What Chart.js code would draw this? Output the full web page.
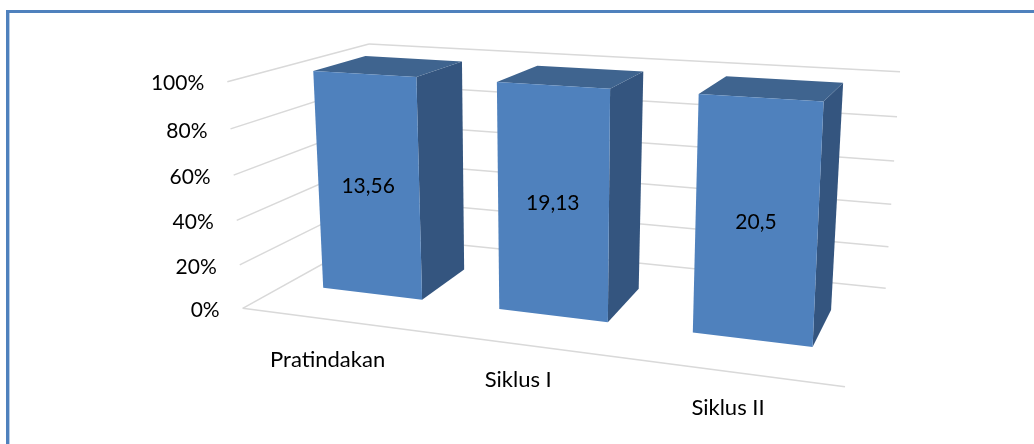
<!DOCTYPE html>
<html>
<head>
<meta charset="utf-8">
<title>Chart</title>
<script src="https://cdn.jsdelivr.net/npm/chart.js@4"></script>
<style>
  html, body { margin: 0; padding: 0; background: #fff; overflow: hidden; }
  canvas { display: block; }
</style>
</head>
<body>
<canvas id="myChart" width="1034" height="444"></canvas>
<script>
const categories = ['Pratindakan', 'Siklus I', 'Siklus II'];
const barValues = [13.56, 19.13, 20.5];
// single series on a 100% stacked axis, so every bar fills the axis
const stackedShare = [100, 100, 100];
const tickStep = 20;

// where the 3d box lands on the page: [u, v, w] = right, up, into the page
const boxCorners = {
  '000': [242.7, 308.3], '100': [845, 386.7],
  '010': [227.3, 81.7],  '110': [857.3, 121.8],
  '001': [373, 236],     '101': [885.7, 288.3],
  '011': [369, 44],      '111': [900, 71.7]
};
const widthPerspective = 0.866;
const heightPerspective = 0.95;
const barFrontDepth = 0.345;
const barBackDepth = 0.73;

const tickFont = '21px Lato';
const categoryFont = '22px Lato';
const categoryDrop = [40, 35, 36]; // excel does not hang these quite evenly
const gridColor = '#d9d9d9';
const frontColor = '#4f81bd';
const topColor = '#3f648f';
const sideColor = '#34557f';

function warp(t, k) {
  return k * t / (1 + (k - 1) * t);
}

function project(u, v, w) {
  const wu = warp(u, widthPerspective);
  const wv = warp(v, heightPerspective);
  const out = [0, 0];
  for (const key in boxCorners) {
    const a = key[0] === '1' ? wu : 1 - wu;
    const b = key[1] === '1' ? wv : 1 - wv;
    const c = key[2] === '1' ? w : 1 - w;
    out[0] += boxCorners[key][0] * a * b * c;
    out[1] += boxCorners[key][1] * a * b * c;
  }
  return out;
}

function fillFace(ctx, points, color) {
  ctx.beginPath();
  points.forEach((p, i) => i === 0 ? ctx.moveTo(p[0], p[1]) : ctx.lineTo(p[0], p[1]));
  ctx.closePath();
  ctx.fillStyle = color;
  ctx.fill();
}

function strokeLine(ctx, a, b) {
  ctx.beginPath();
  ctx.moveTo(a[0], a[1]);
  ctx.lineTo(b[0], b[1]);
  ctx.stroke();
}

const box3d = {
  id: 'box3d',
  beforeDatasetsDraw(chart) {
    const ctx = chart.ctx;
    const area = chart.chartArea;
    const yScale = chart.scales.y;
    const xScale = chart.scales.x;
    const toU = (px) => (px - area.left) / area.width;
    const toV = (py) => (area.bottom - py) / area.height;

    ctx.save();

    // frame of the picture, only top and left are there
    ctx.fillStyle = frontColor;
    ctx.fillRect(6, 10, 1028, 3);
    ctx.fillRect(6, 10, 3, 434);
    ctx.fillStyle = '#b9cde5';
    ctx.fillRect(9, 13, 1, 431);

    // walls and floor
    ctx.strokeStyle = gridColor;
    ctx.lineWidth = 1.5;
    yScale.ticks.forEach((tick) => {
      const v = toV(yScale.getPixelForValue(tick.value));
      strokeLine(ctx, project(0, v, 0), project(0, v, 1));
      strokeLine(ctx, project(0, v, 1), project(1, v, 1));
    });
    strokeLine(ctx, project(0, 0, 0), project(1, 0, 0));

    // y labels follow the front edge of the left wall
    ctx.font = tickFont;
    ctx.fillStyle = '#000';
    ctx.textAlign = 'right';
    ctx.textBaseline = 'middle';
    yScale.ticks.forEach((tick) => {
      const p = project(0, toV(yScale.getPixelForValue(tick.value)), 0);
      ctx.fillText(tick.label, p[0] - 23, p[1] + 2);
    });

    // category labels hang under the front floor edge
    ctx.font = categoryFont;
    ctx.textAlign = 'center';
    categories.forEach((name, i) => {
      const p = project(toU(xScale.getPixelForTick(i)), 0, 0);
      ctx.fillText(xScale.getLabelForValue(i), p[0] - 4, p[1] + categoryDrop[i]);
    });

    // bars
    ctx.font = tickFont;
    const meta = chart.getDatasetMeta(0);
    meta.data.forEach((bar, i) => {
      const u0 = toU(bar.x - bar.width / 2);
      const u1 = toU(bar.x + bar.width / 2);
      const v0 = toV(bar.base);
      const v1 = toV(bar.y);
      const d0 = barFrontDepth;
      const d1 = barBackDepth;

      fillFace(ctx, [project(u1, v0, d0), project(u1, v0, d1), project(u1, v1, d1), project(u1, v1, d0)], sideColor);
      fillFace(ctx, [project(u0, v1, d0), project(u1, v1, d0), project(u1, v1, d1), project(u0, v1, d1)], topColor);
      fillFace(ctx, [project(u0, v0, d0), project(u1, v0, d0), project(u1, v1, d0), project(u0, v1, d0)], frontColor);

      const mid = project((u0 + u1) / 2, (v0 + v1) / 2, d0);
      ctx.fillStyle = '#000';
      ctx.textAlign = 'center';
      ctx.fillText(String(barValues[i]).replace('.', ','), mid[0], mid[1]);
    });

    ctx.restore();
    return false; // the bars are already on the canvas
  }
};

new Chart(document.getElementById('myChart'), {
  type: 'bar',
  data: {
    labels: categories,
    datasets: [{ data: stackedShare, barPercentage: 0.573, categoryPercentage: 1 }]
  },
  options: {
    responsive: false,
    animation: false,
    plugins: { legend: { display: false }, tooltip: { enabled: false } },
    scales: {
      x: { display: false },
      y: {
        display: false,
        min: 0,
        max: 100,
        ticks: { stepSize: tickStep, callback: (value) => value + '%' }
      }
    }
  },
  plugins: [box3d]
});
</script>
</body>
</html>
